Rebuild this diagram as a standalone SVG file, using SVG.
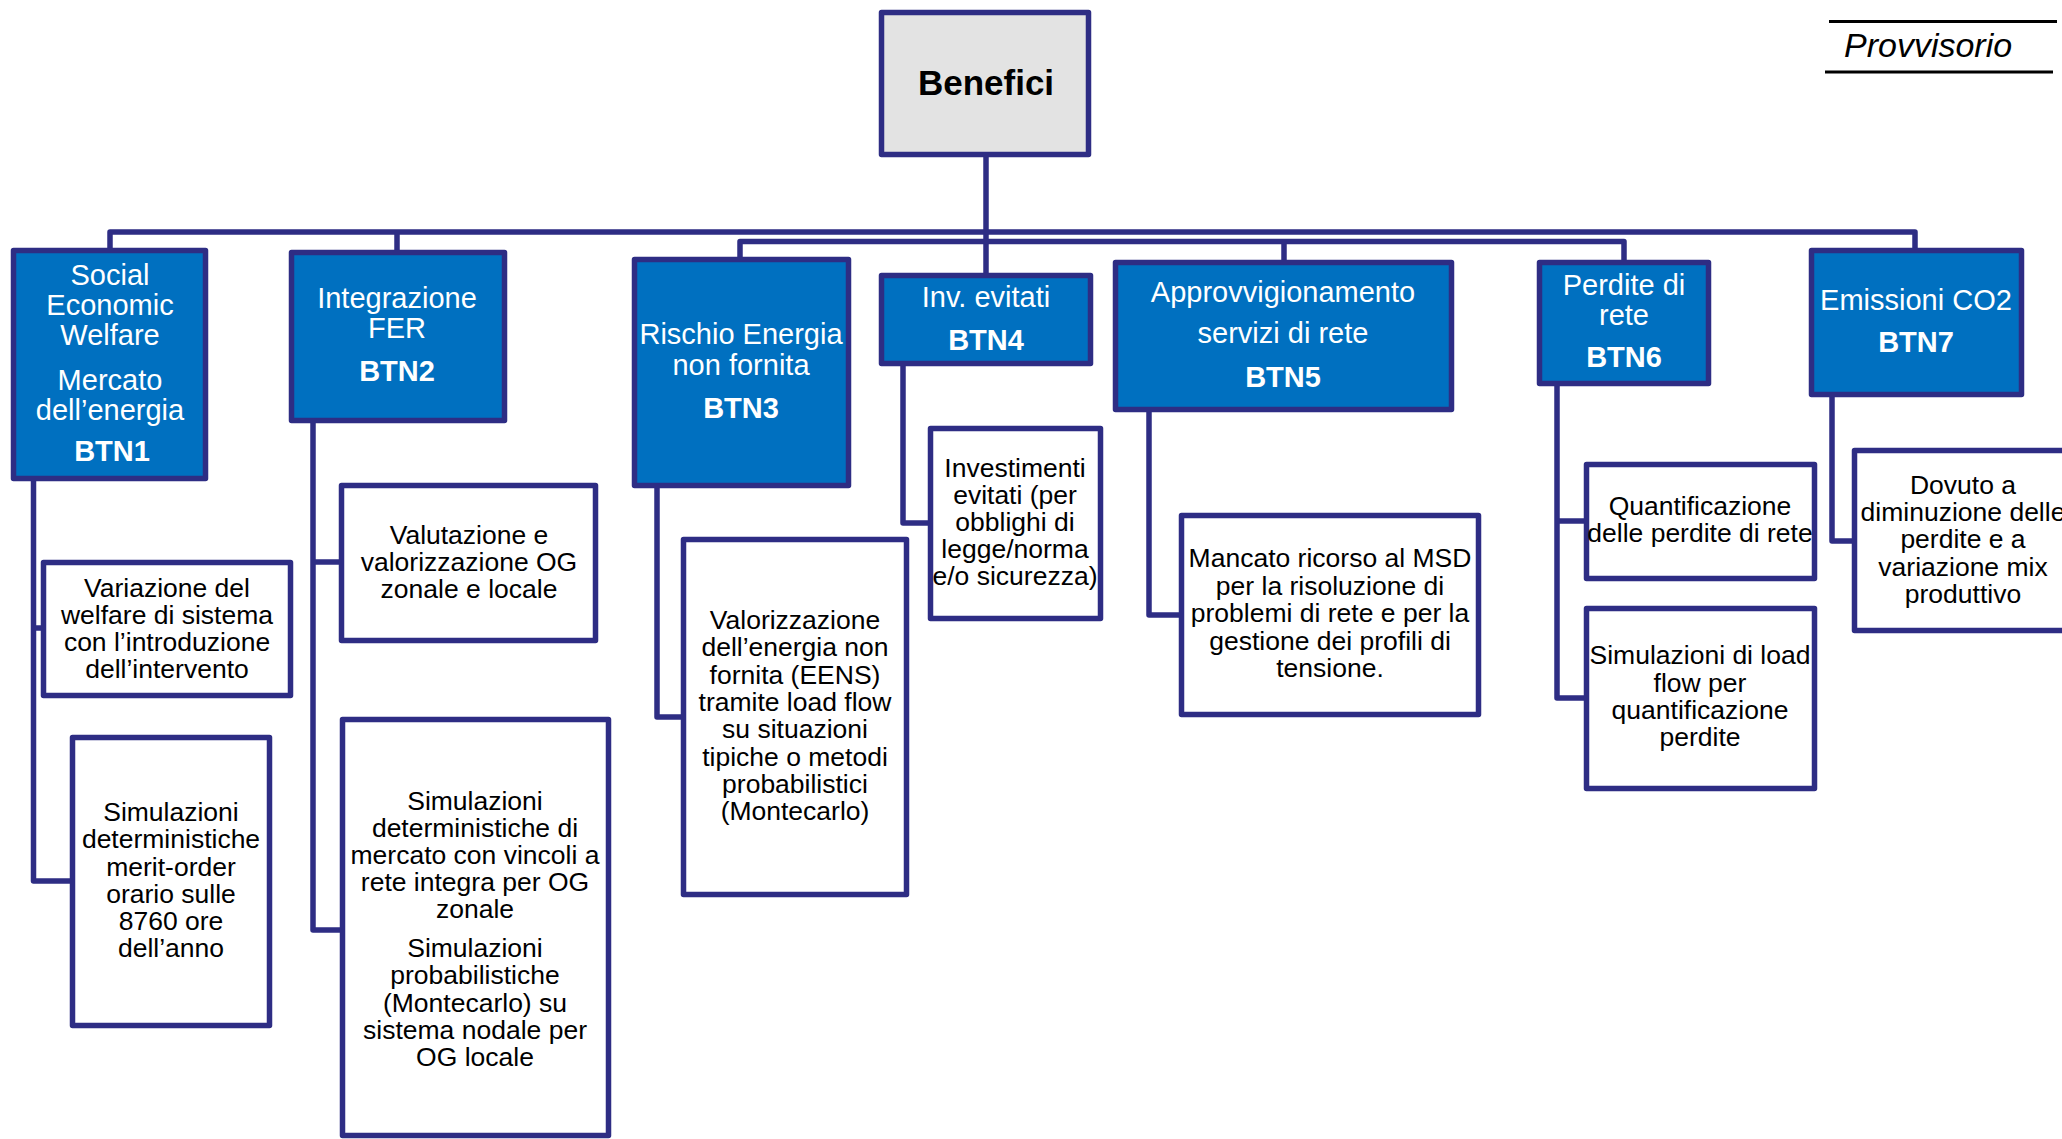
<svg xmlns="http://www.w3.org/2000/svg" width="2062" height="1139" viewBox="0 0 2062 1139">
<style>
.bn{fill:#0070C0;stroke:#2E2D84;stroke-width:5.5;stroke-linejoin:round}
.cb{fill:#FFFFFF;stroke:#2E2D84;stroke-width:5.5;stroke-linejoin:round}
.root{fill:#E3E3E3;stroke:#2E2D84;stroke-width:5.5;stroke-linejoin:round}
.ln{fill:none;stroke:#2E2D84;stroke-width:5.5;stroke-linejoin:round}
.wt{font-family:"Liberation Sans",Arial,sans-serif;font-size:29px;fill:#FFFFFF;text-anchor:middle}
.wb{font-family:"Liberation Sans",Arial,sans-serif;font-size:29px;font-weight:bold;fill:#FFFFFF;text-anchor:middle}
.bt{font-family:"Liberation Sans",Arial,sans-serif;font-size:26.5px;fill:#000000;text-anchor:middle}
</style>
<rect width="2062" height="1139" fill="#FFFFFF"/>
<g id="connectors">
<path class="ln" d="M986,157 V273"/>
<path class="ln" d="M110,248 V232 H1915 V248"/>
<path class="ln" d="M397,232 V251"/>
<path class="ln" d="M740,257 V241.5 H1624 V260"/>
<path class="ln" d="M1284,241.5 V260"/>
<path class="ln" d="M33.5,481 V881 H71"/>
<path class="ln" d="M33.5,628 H42"/>
<path class="ln" d="M313,422 V930 H341"/>
<path class="ln" d="M313,562 H340"/>
<path class="ln" d="M657,488 V717 H682"/>
<path class="ln" d="M903,366 V523 H929"/>
<path class="ln" d="M1149,412 V615 H1180"/>
<path class="ln" d="M1557,386 V698 H1585"/>
<path class="ln" d="M1557,521 H1585"/>
<path class="ln" d="M1832,397 V541 H1853"/>
</g>
<g id="provvisorio">
<line x1="1829" y1="21.5" x2="2057" y2="21.5" stroke="#000" stroke-width="3"/>
<line x1="1825" y1="72" x2="2053" y2="72" stroke="#000" stroke-width="3"/>
<text x="1844" y="57" font-family="'Liberation Sans',Arial,sans-serif" font-size="34" font-style="italic" fill="#000">Provvisorio</text>
</g>
<g id="benefici">
<rect class="root" x="881.5" y="12.5" width="207" height="142"/>
<text x="986" y="95" font-family="'Liberation Sans',Arial,sans-serif" font-size="35" font-weight="bold" fill="#000" text-anchor="middle">Benefici</text>
</g>
<g id="btn1">
<rect class="bn" x="13.5" y="250.5" width="192" height="228"/>
<text class="wt" x="110" y="285">Social</text>
<text class="wt" x="110" y="315">Economic</text>
<text class="wt" x="110" y="345">Welfare</text>
<text class="wt" x="110" y="390">Mercato</text>
<text class="wt" x="110" y="420">dell’energia</text>
<text class="wb" x="112" y="461">BTN1</text>
</g>
<g id="btn2">
<rect class="bn" x="291.5" y="252.5" width="213" height="168"/>
<text class="wt" x="397" y="308">Integrazione</text>
<text class="wt" x="397" y="338">FER</text>
<text class="wb" x="397" y="381">BTN2</text>
</g>
<g id="btn3">
<rect class="bn" x="634.5" y="259.5" width="214" height="226"/>
<text class="wt" x="741" y="344">Rischio Energia</text>
<text class="wt" x="741" y="375">non fornita</text>
<text class="wb" x="741" y="418">BTN3</text>
</g>
<g id="btn4">
<rect class="bn" x="881.5" y="275.5" width="209" height="88"/>
<text class="wt" x="986" y="307">Inv. evitati</text>
<text class="wb" x="986" y="350">BTN4</text>
</g>
<g id="btn5">
<rect class="bn" x="1115.5" y="262.5" width="336" height="147"/>
<text class="wt" x="1283" y="302">Approvvigionamento</text>
<text class="wt" x="1283" y="343">servizi di rete</text>
<text class="wb" x="1283" y="387">BTN5</text>
</g>
<g id="btn6">
<rect class="bn" x="1539.5" y="262.5" width="169" height="121"/>
<text class="wt" x="1624" y="295">Perdite di</text>
<text class="wt" x="1624" y="325">rete</text>
<text class="wb" x="1624" y="367">BTN6</text>
</g>
<g id="btn7">
<rect class="bn" x="1811.5" y="250.5" width="210" height="144"/>
<text class="wt" x="1916" y="310">Emissioni CO2</text>
<text class="wb" x="1916" y="352">BTN7</text>
</g>
<g id="c1a">
<rect class="cb" x="43.5" y="562.5" width="247" height="133"/>
<text class="bt" x="167" y="597">Variazione del</text>
<text class="bt" x="167" y="624">welfare di sistema</text>
<text class="bt" x="167" y="651">con l’introduzione</text>
<text class="bt" x="167" y="678">dell’intervento</text>
</g>
<g id="c1b">
<rect class="cb" x="72.5" y="737.5" width="197" height="288"/>
<text class="bt" x="171" y="821">Simulazioni</text>
<text class="bt" x="171" y="848">deterministiche</text>
<text class="bt" x="171" y="876">merit-order</text>
<text class="bt" x="171" y="903">orario sulle</text>
<text class="bt" x="171" y="930">8760 ore</text>
<text class="bt" x="171" y="957">dell’anno</text>
</g>
<g id="c2a">
<rect class="cb" x="341.5" y="485.5" width="254" height="155"/>
<text class="bt" x="469" y="544">Valutazione e</text>
<text class="bt" x="469" y="571">valorizzazione OG</text>
<text class="bt" x="469" y="598">zonale e locale</text>
</g>
<g id="c2b">
<rect class="cb" x="342.5" y="719.5" width="266" height="416"/>
<text class="bt" x="475" y="810">Simulazioni</text>
<text class="bt" x="475" y="837">deterministiche di</text>
<text class="bt" x="475" y="864">mercato con vincoli a</text>
<text class="bt" x="475" y="891">rete integra per OG</text>
<text class="bt" x="475" y="918">zonale</text>
<text class="bt" x="475" y="957">Simulazioni</text>
<text class="bt" x="475" y="984">probabilistiche</text>
<text class="bt" x="475" y="1012">(Montecarlo) su</text>
<text class="bt" x="475" y="1039">sistema nodale per</text>
<text class="bt" x="475" y="1066">OG locale</text>
</g>
<g id="c3">
<rect class="cb" x="683.5" y="539.5" width="223" height="355"/>
<text class="bt" x="795" y="629">Valorizzazione</text>
<text class="bt" x="795" y="656">dell’energia non</text>
<text class="bt" x="795" y="684">fornita (EENS)</text>
<text class="bt" x="795" y="711">tramite load flow</text>
<text class="bt" x="795" y="738">su situazioni</text>
<text class="bt" x="795" y="766">tipiche o metodi</text>
<text class="bt" x="795" y="793">probabilistici</text>
<text class="bt" x="795" y="820">(Montecarlo)</text>
</g>
<g id="c4">
<rect class="cb" x="930.5" y="428.5" width="170" height="190"/>
<text class="bt" x="1015" y="477">Investimenti</text>
<text class="bt" x="1015" y="504">evitati (per</text>
<text class="bt" x="1015" y="531">obblighi di</text>
<text class="bt" x="1015" y="558">legge/norma</text>
<text class="bt" x="1015" y="585">e/o sicurezza)</text>
</g>
<g id="c5">
<rect class="cb" x="1181.5" y="515.5" width="297" height="199"/>
<text class="bt" x="1330" y="567">Mancato ricorso al MSD</text>
<text class="bt" x="1330" y="595">per la risoluzione di</text>
<text class="bt" x="1330" y="622">problemi di rete e per la</text>
<text class="bt" x="1330" y="650">gestione dei profili di</text>
<text class="bt" x="1330" y="677">tensione.</text>
</g>
<g id="c6a">
<rect class="cb" x="1586.5" y="464.5" width="228" height="114"/>
<text class="bt" x="1700" y="515">Quantificazione</text>
<text class="bt" x="1700" y="542">delle perdite di rete</text>
</g>
<g id="c6b">
<rect class="cb" x="1586.5" y="608.5" width="228" height="180"/>
<text class="bt" x="1700" y="664">Simulazioni di load</text>
<text class="bt" x="1700" y="692">flow per</text>
<text class="bt" x="1700" y="719">quantificazione</text>
<text class="bt" x="1700" y="746">perdite</text>
</g>
<g id="c7">
<rect class="cb" x="1854.5" y="450.5" width="218" height="180"/>
<text class="bt" x="1963" y="494">Dovuto a</text>
<text class="bt" x="1963" y="521">diminuzione delle</text>
<text class="bt" x="1963" y="548">perdite e a</text>
<text class="bt" x="1963" y="576">variazione mix</text>
<text class="bt" x="1963" y="603">produttivo</text>
</g>
</svg>
